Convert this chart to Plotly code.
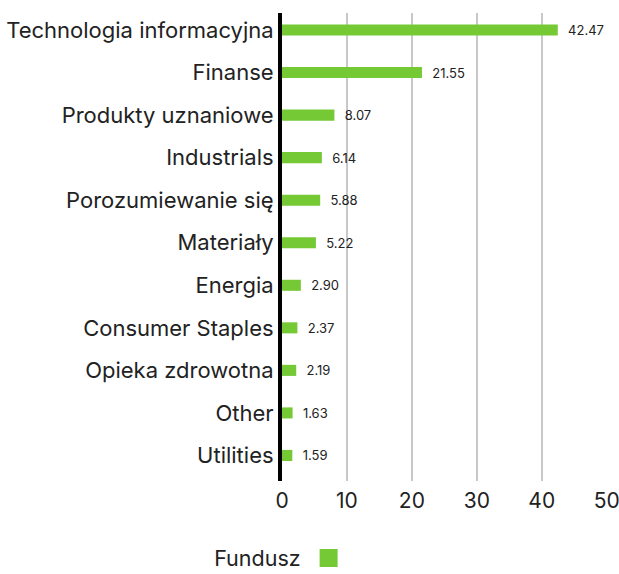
import plotly.graph_objects as go

categories = ["Technologia informacyjna", "Finanse", "Produkty uznaniowe", "Industrials",
              "Porozumiewanie się", "Materiały", "Energia", "Consumer Staples",
              "Opieka zdrowotna", "Other", "Utilities"]
values = [42.47, 21.55, 8.07, 6.14, 5.88, 5.22, 2.90, 2.37, 2.19, 1.63, 1.59]
tick_vals = [0, 10, 20, 30, 40, 50]
series_name = "Fundusz"

FONT = "Inter"
GREEN = "#74C935"

fig = go.Figure()
fig.add_trace(go.Bar(
    x=values, y=categories, orientation="h",
    marker=dict(color=GREEN, line=dict(width=0)),
    width=0.26,
    text=["  " + f"{v:.2f}" for v in values],
    textposition="outside",
    constraintext="none",
    textfont=dict(family=FONT, size=13, color="#222222"),
    cliponaxis=False,
    showlegend=False,
))
# legend entry (large square swatch)
fig.add_trace(go.Scatter(
    x=[None], y=[None], mode="markers", name=" ",
    marker=dict(symbol="square", size=16, color=GREEN, line=dict(width=2, color=GREEN)),
    showlegend=True,
))

fig.update_layout(
    width=619, height=574,
    margin=dict(l=282, r=12, t=13, b=93, autoexpand=False),
    plot_bgcolor="white", paper_bgcolor="white",
    font=dict(family=FONT, color="#222222"),
    xaxis=dict(range=[0, 50.05], tickvals=tick_vals, showgrid=True,
               gridcolor="#C8C8C8", gridwidth=2, zeroline=False,
               tickfont=dict(size=21, color="#222222"), ticks="", showline=False,
               ticklabeloverflow="allow", automargin=False, ticklabelstandoff=5),
    yaxis=dict(categoryorder="array", categoryarray=categories,
               range=[10.6, -0.4], showgrid=False, zeroline=False,
               tickfont=dict(size=22, color="#222222"), ticks="",
               ticklabelstandoff=0, automargin=False,
               showline=True, linecolor="black", linewidth=4),
    legend=dict(orientation="h", x=-0.215, xanchor="left", y=-0.206, yanchor="bottom",
                bgcolor="rgba(0,0,0,0)", borderwidth=0,
                title=dict(text=series_name, side="left", font=dict(size=21.5, color="#222222")),
                font=dict(size=20), itemwidth=30),
    showlegend=True,
)

fig.write_html("out.html", config={"displayModeBar": False},
               post_script="document.body.style.margin='0';")
